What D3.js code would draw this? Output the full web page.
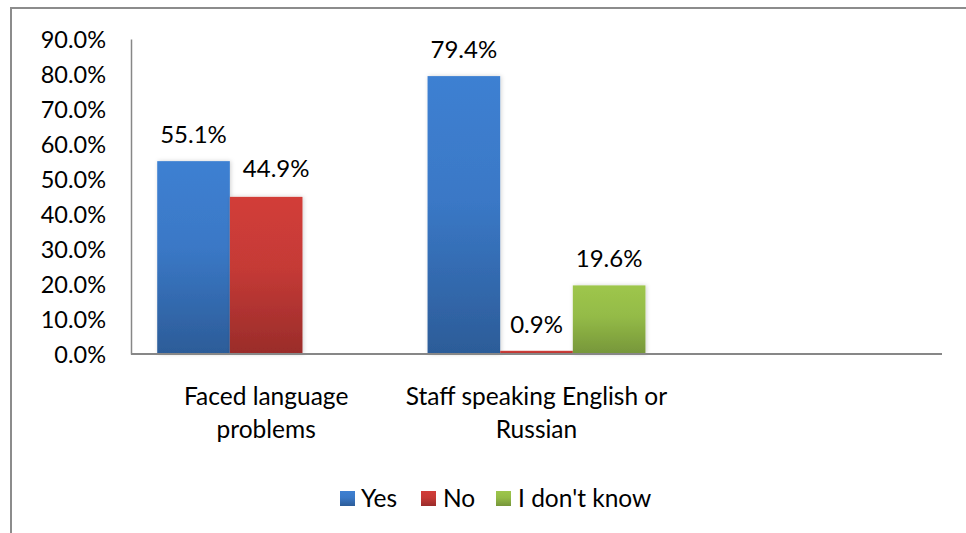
<!DOCTYPE html>
<html>
<head>
<meta charset="utf-8">
<script src="https://cdn.jsdelivr.net/npm/d3@7"></script>
<style>
  html, body { margin: 0; padding: 0; background: #fff; }
  svg { display: block; }
  text { font-family: Lato, "Open Sans", sans-serif; fill: #000; }
</style>
</head>
<body>
<svg id="chart" width="966" height="533"></svg>
<script>
// Survey answers by question (percent)
const categories = [["Faced language", "problems"], ["Staff speaking English or", "Russian"], [""]];
const seriesNames = ["Yes", "No", "I don't know"];
const yesValues = [55.1, 79.4];
const noValues = [44.9, 0.9];
const dontKnowValues = [null, 19.6];
const yTicks = [0, 10, 20, 30, 40, 50, 60, 70, 80, 90];

const seriesValues = [yesValues, noValues, dontKnowValues];
const gradients = [
  ["#3e80d2", "#3a78c6", "#2c5c98"],
  ["#d23d39", "#c53a36", "#9a2c2a"],
  ["#9ec64c", "#94bb47", "#76963a"]
];

const svg = d3.select("#chart");
const plot = { left: 131, right: 942, top: 39, bottom: 354 };

// Outer chart frame (runs past the right and bottom edges)
svg.append("rect")
  .attr("x", 11).attr("y", 8)
  .attr("width", 1000).attr("height", 600)
  .attr("fill", "none").attr("stroke", "#8c8c8c").attr("stroke-width", 2);

const defs = svg.append("defs");
gradients.forEach((g, i) => {
  const lg = defs.append("linearGradient")
    .attr("id", "grad" + i)
    .attr("x1", 0).attr("y1", 0).attr("x2", 0).attr("y2", 1);
  lg.append("stop").attr("offset", "0%").attr("stop-color", g[0]);
  lg.append("stop").attr("offset", "45%").attr("stop-color", g[1]);
  lg.append("stop").attr("offset", "100%").attr("stop-color", g[2]);
});
const shadow = defs.append("filter").attr("id", "shadow")
  .attr("x", "-20%").attr("y", "-20%").attr("width", "140%").attr("height", "140%");
shadow.append("feDropShadow").attr("dx", 1).attr("dy", 0).attr("stdDeviation", 2)
  .attr("flood-color", "#000").attr("flood-opacity", 0.18);

const y = d3.scaleLinear().domain([0, 90]).range([plot.bottom, plot.top]);
const x0 = d3.scaleBand().domain(d3.range(categories.length)).range([plot.left, plot.right]).padding(0);
const step = x0.step();
const x1 = d3.scaleBand().domain(d3.range(seriesNames.length))
  .range([step * 0.097, step * 0.903]).padding(0);

// Y axis with percent labels
const yAxis = d3.axisLeft(y).tickValues(yTicks).tickSize(0).tickPadding(25)
  .tickFormat(d => d.toFixed(1) + "%");
const ya = svg.append("g").attr("transform", `translate(${plot.left},0)`).call(yAxis);
ya.select(".domain").attr("stroke", "#878787").attr("stroke-width", 1.5);
ya.selectAll("text").style("font-size", "23.5px").attr("font-family", "Lato").attr("dy", "0.36em");

// Bars
const bars = [];
seriesValues.forEach((vals, s) => {
  vals.forEach((v, c) => {
    if (v !== null && v !== undefined) bars.push({ s, c, v });
  });
});

svg.append("g").selectAll("rect").data(bars).join("rect")
  .attr("x", d => x0(d.c) + x1(d.s))
  .attr("y", d => y(d.v))
  .attr("width", x1.bandwidth())
  .attr("height", d => y(0) - y(d.v))
  .attr("fill", d => `url(#grad${d.s})`)
  .attr("filter", "url(#shadow)");

// X baseline
svg.append("line")
  .attr("x1", plot.left).attr("x2", plot.right)
  .attr("y1", y(0)).attr("y2", y(0))
  .attr("stroke", "#878787").attr("stroke-width", 2);

// Value labels above bars
const nudge = { "0-1": [10, -2] };
svg.append("g").selectAll("text").data(bars).join("text")
  .attr("x", d => x0(d.c) + x1(d.s) + x1.bandwidth() / 2 + ((nudge[d.c + "-" + d.s] || [0, 0])[0]))
  .attr("y", d => y(d.v) - 18 + ((nudge[d.c + "-" + d.s] || [0, 0])[1]))
  .attr("text-anchor", "middle")
  .style("font-size", "24px")
  .text(d => d.v.toFixed(1) + "%");

// Category labels
const catG = svg.append("g");
categories.forEach((lines, c) => {
  const t = catG.append("text")
    .attr("x", x0(c) + step / 2)
    .attr("y", 405)
    .attr("text-anchor", "middle")
    .style("font-size", "24.5px");
  lines.forEach((ln, i) => {
    t.append("tspan").attr("x", x0(c) + step / 2).attr("dy", i === 0 ? 0 : 33).text(ln);
  });
});

// Legend
const legendItems = [
  { name: seriesNames[0], sx: 340, tx: 361 },
  { name: seriesNames[1], sx: 421, tx: 443 },
  { name: seriesNames[2], sx: 496, tx: 518 }
];
const lg = svg.append("g");
legendItems.forEach((it, i) => {
  lg.append("rect").attr("x", it.sx).attr("y", 491).attr("width", 15).attr("height", 15)
    .attr("fill", `url(#grad${i})`);
  lg.append("text").attr("x", it.tx).attr("y", 506.5).style("font-size", "24.5px").text(it.name);
});
</script>
</body>
</html>
